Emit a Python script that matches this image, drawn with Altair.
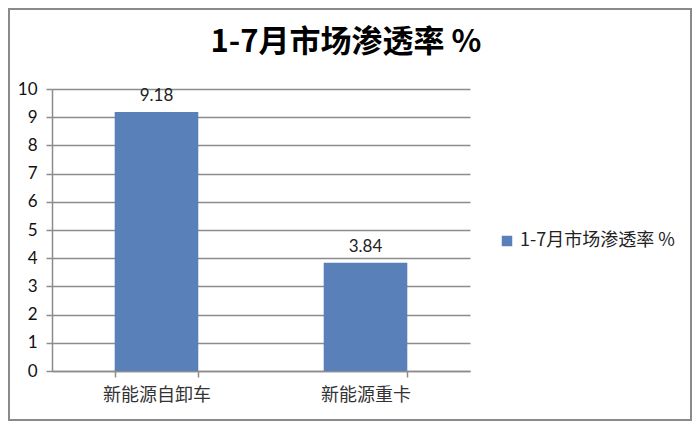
import altair as alt
import pandas as pd

categories = ["新能源自卸车", "新能源重卡"]
values = [9.18, 3.84]
series_name = "1-7月市场渗透率 %"
title_text = "1-7月市场渗透率 %"
y_ticks = list(range(0, 11))

df = pd.DataFrame({"cat": categories, "val": values, "series": [series_name] * len(categories)})

CJK = "Noto Sans CJK SC"
NUM = "Lato"
BAR = "#5A80B9"
GRID = "#8c8c8c"

base = alt.Chart(df)

x_enc = alt.X("cat:N", sort=categories, title=None,
              scale=alt.Scale(paddingInner=0.6, paddingOuter=0.3),
              axis=alt.Axis(labelAngle=0, labelFont=CJK, labelFontSize=18, labelColor="#333",
                            labelPadding=9, tickBand="extent", tickSize=6, tickColor=GRID,
                            tickWidth=1.5, domainColor=GRID, domainWidth=1.5))
y_enc = alt.Y("val:Q", title=None,
              scale=alt.Scale(domain=[0, 10], nice=False),
              axis=alt.Axis(values=y_ticks, labelFont=NUM, labelFontSize=17,
                            labelColor="#111", labelPadding=9, tickSize=6, tickColor=GRID,
                            tickWidth=1.5, domainColor=GRID, domainWidth=1.5,
                            gridColor=GRID, gridWidth=1.5, grid=True, labelOverlap=False))

bars = base.mark_bar(color=BAR).encode(
    x=x_enc, y=y_enc,
    color=alt.Color("series:N", scale=alt.Scale(range=[BAR]),
                    legend=alt.Legend(title=None, orient="none", legendX=446, legendY=143,
                                      symbolType="square", symbolSize=110, symbolStrokeWidth=0,
                                      labelFont=CJK, labelFontSize=18, labelColor="#222",
                                      labelLimit=300)),
)

labels = base.mark_text(dy=-16, font=NUM, fontSize=17, color="#222").encode(
    x=x_enc, y=y_enc, text=alt.Text("val:Q", format=".2f")
)

border = alt.Chart(pd.DataFrame({"a": [0]})).mark_rect(
    fill=None, stroke="#8a8a8a", strokeWidth=2, clip=False
).encode(x=alt.value(-43), x2=alt.value(639), y=alt.value(-80), y2=alt.value(331))

title = alt.Chart(pd.DataFrame({"t": [title_text]})).mark_text(
    font=CJK, fontSize=31, fontWeight="bold", color="#000", baseline="middle", align="center"
).encode(x=alt.value(294), y=alt.value(-46), text="t:N")

chart = alt.layer(border, bars, labels, title).properties(
    width=418, height=282,
    autosize=alt.AutoSizeParams(type="none"),
    padding={"left": 44, "top": 81, "right": 222, "bottom": 51},
).configure_view(stroke=None)

chart.save("out.html", embed_options={"renderer": "svg", "actions": False})
